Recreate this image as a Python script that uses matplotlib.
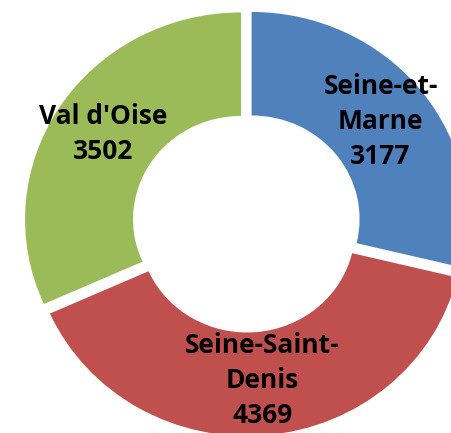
import matplotlib.pyplot as plt
import matplotlib.transforms as mtransforms

# donnees
departements = ["Seine-et-\nMarne", "Seine-Saint-\nDenis", "Val d'Oise"]
effectifs = [3177, 4369, 3502]
couleurs = ['#4F81BD', '#C0504D', '#9BBB59']

labels = [d + '\n' + str(v) for d, v in zip(departements, effectifs)]

fig = plt.figure(figsize=(4.51, 4.33), dpi=100)
ax = fig.add_axes([0, 0, 1, 1])

wedges, texts = ax.pie(effectifs, labels=labels, colors=couleurs,
                       startangle=90, counterclock=False,
                       explode=[0.03, 0.03, 0.03],
                       labeldistance=0.76,
                       wedgeprops=dict(width=0.5, linewidth=0),
                       textprops=dict(fontsize=19, fontweight='bold',
                                      family='Open Sans', color='black',
                                      linespacing=1.38))
for t in texts:
    t.set_ha('center')
    t.set_va('center')
    t.set_multialignment('center')

# le libelle du bas touche le bord : on le remonte un peu
texts[1].set_transform(ax.transData +
                       mtransforms.ScaledTranslation(0, 5 / 100, fig.dpi_scale_trans))

# cadrage : le donut deborde a droite et en bas, legerement aplati
sx, sy = 216.0, 207.0
cx, cy = 246.5, 222.8
ax.set_aspect('auto')
ax.set_xlim(-cx / sx, (451 - cx) / sx)
ax.set_ylim(-(433 - cy) / sy, cy / sy)
ax.axis('off')

fig.savefig('out.png', dpi=100)
